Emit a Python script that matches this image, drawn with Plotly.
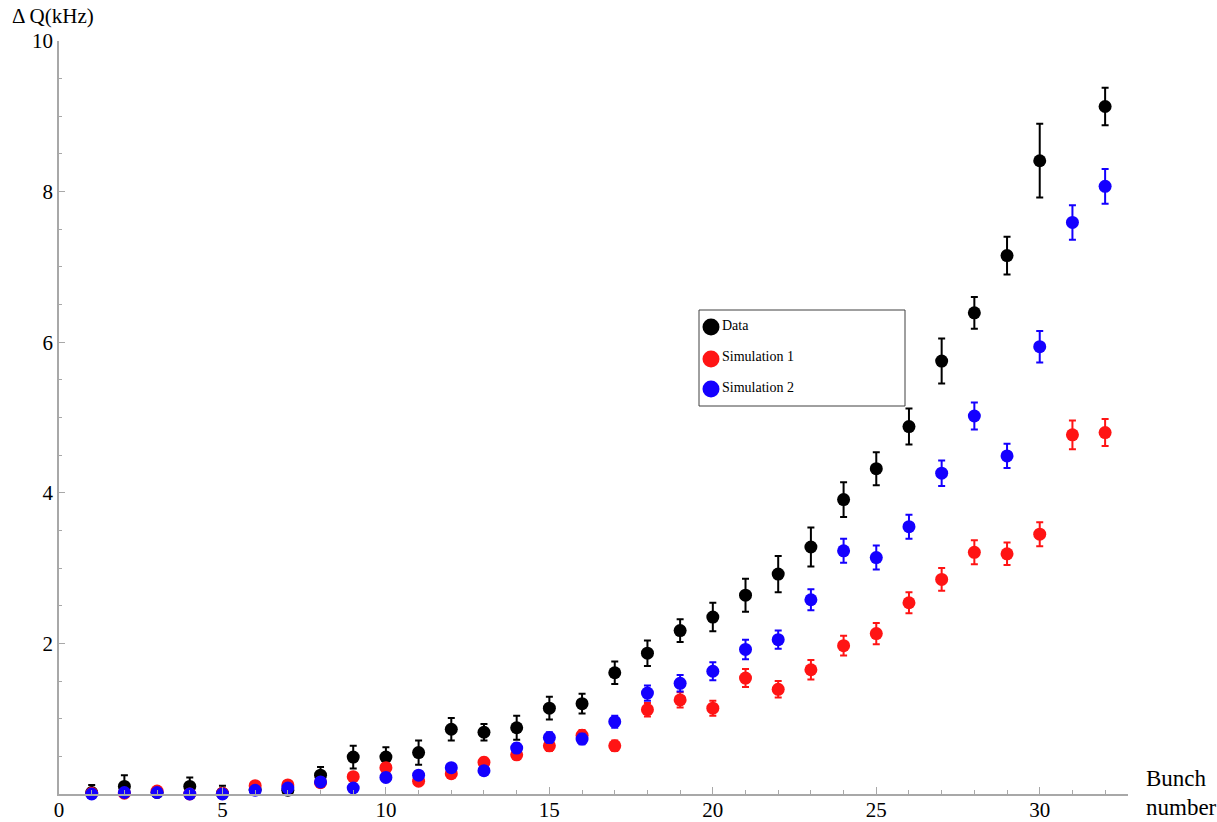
import plotly.graph_objects as go

# Bunch numbers
bunches = list(range(1, 33))
data_bunches = [b for b in bunches if b != 31]

# Measured tune shift (kHz) and its uncertainty
data_dq = [0.02, 0.10, 0.02, 0.10, 0.01, 0.06, 0.05, 0.25, 0.49, 0.49, 0.55, 0.86, 0.82,
           0.88, 1.14, 1.20, 1.61, 1.87, 2.17, 2.35, 2.64, 2.92, 3.28, 3.91, 4.32, 4.88,
           5.75, 6.39, 7.15, 8.41, 9.13]
data_err = [0.10, 0.15, 0.05, 0.12, 0.10, 0.05, 0.06, 0.11, 0.15, 0.13, 0.16, 0.15, 0.11,
            0.16, 0.15, 0.13, 0.15, 0.17, 0.15, 0.19, 0.22, 0.24, 0.26, 0.23, 0.22, 0.24,
            0.30, 0.21, 0.25, 0.49, 0.25]

# Simulation 1
sim1_dq = [0.01, 0.01, 0.04, 0.00, 0.01, 0.11, 0.12, 0.15, 0.23, 0.35, 0.17, 0.27, 0.42,
           0.52, 0.64, 0.78, 0.64, 1.12, 1.25, 1.14, 1.54, 1.39, 1.65, 1.97, 2.13, 2.54,
           2.85, 3.21, 3.19, 3.45, 4.77, 4.80]
sim1_err = [0.02, 0.02, 0.02, 0.02, 0.02, 0.03, 0.03, 0.03, 0.04, 0.05, 0.04, 0.05, 0.06,
            0.06, 0.07, 0.07, 0.07, 0.09, 0.10, 0.10, 0.12, 0.11, 0.13, 0.13, 0.14, 0.14,
            0.15, 0.16, 0.15, 0.16, 0.19, 0.18]

# Simulation 2
sim2_dq = [0.00, 0.02, 0.02, 0.00, 0.00, 0.05, 0.08, 0.16, 0.08, 0.22, 0.25, 0.35, 0.31,
           0.61, 0.75, 0.73, 0.96, 1.34, 1.47, 1.63, 1.92, 2.05, 2.58, 3.23, 3.14, 3.55,
           4.26, 5.02, 4.49, 5.94, 7.59, 8.07]
sim2_err = [0.02, 0.02, 0.02, 0.02, 0.02, 0.03, 0.03, 0.03, 0.03, 0.04, 0.04, 0.05, 0.05,
            0.06, 0.07, 0.07, 0.08, 0.10, 0.11, 0.12, 0.13, 0.12, 0.14, 0.16, 0.16, 0.16,
            0.17, 0.18, 0.16, 0.21, 0.23, 0.23]

y_tick_vals = [2, 4, 6, 8, 10]
x_tick_vals = [0, 5, 10, 15, 20, 25, 30]

series = [
    ("Data", data_bunches, data_dq, data_err, "#000000"),
    ("Simulation 1", bunches, sim1_dq, sim1_err, "#ff1414"),
    ("Simulation 2", bunches, sim2_dq, sim2_err, "#1400ff"),
]

FONT = "Liberation Serif, Times New Roman, serif"
AXIS_GRAY = "#a8a8a8"

fig = go.Figure()
for name, xs, ys, errs, color in series:
    fig.add_trace(go.Scatter(
        x=xs, y=ys, name=name, mode="markers",
        marker=dict(color=color, size=13),
        error_y=dict(type="data", array=errs, visible=True,
                     color=color, thickness=2, width=3.5),
        cliponaxis=False, showlegend=False,
    ))

# Plot-area geometry (pixels) used for placing the legend box and labels
L, T, W, H = 59, 41, 1069, 753


def px_x(p):
    return (p - L) / W


def px_y(p):
    return (T + H - p) / H


shapes = [dict(type="rect", xref="paper", yref="paper",
               x0=px_x(699), x1=px_x(905), y0=px_y(406), y1=px_y(310),
               line=dict(color="#404040", width=1), fillcolor="white", layer="above")]
annotations = []
rows = [327, 359, 389]
for (name, _, _, _, color), ry in zip(series, rows):
    shapes.append(dict(type="circle", xref="paper", yref="paper",
                       xsizemode="pixel", ysizemode="pixel",
                       xanchor=px_x(711), yanchor=px_y(ry),
                       x0=-8.5, x1=8.5, y0=-8.5, y1=8.5,
                       fillcolor=color, line=dict(width=0), layer="above"))
    annotations.append(dict(text=name, xref="paper", yref="paper",
                            x=px_x(720), y=px_y(ry - 2), xanchor="left", yanchor="middle",
                            showarrow=False, font=dict(family=FONT, size=14, color="black")))

annotations += [
    dict(text="Δ Q(kHz)", xref="paper", yref="paper", x=px_x(10), y=px_y(16),
         xanchor="left", yanchor="middle", showarrow=False,
         font=dict(family=FONT, size=21, color="black")),
    dict(text="Bunch", xref="paper", yref="paper", x=px_x(1144), y=px_y(778),
         xanchor="left", yanchor="middle", showarrow=False,
         font=dict(family=FONT, size=23, color="black")),
    dict(text="number", xref="paper", yref="paper", x=px_x(1144), y=px_y(807),
         xanchor="left", yanchor="middle", showarrow=False,
         font=dict(family=FONT, size=23, color="black")),
]

fig.update_layout(
    width=1217, height=822,
    margin=dict(l=L, r=1217 - L - W, t=T, b=822 - T - H, autoexpand=False),
    paper_bgcolor="white", plot_bgcolor="white",
    font=dict(family=FONT, size=21, color="black"),
    shapes=shapes, annotations=annotations,
    xaxis=dict(range=[0, 32.7], showgrid=False, zeroline=False,
               showline=True, linecolor=AXIS_GRAY, linewidth=1.5,
               tickmode="array", tickvals=x_tick_vals,
               ticks="inside", ticklen=7, tickcolor=AXIS_GRAY, tickwidth=1,
               ticklabelstandoff=-4,
               minor=dict(ticks="inside", dtick=1, tick0=0, ticklen=4,
                          tickcolor=AXIS_GRAY, tickwidth=1),
               tickfont=dict(family=FONT, size=21, color="black")),
    yaxis=dict(range=[0, 10], showgrid=False, zeroline=False,
               showline=True, linecolor=AXIS_GRAY, linewidth=1.5,
               tickmode="array", tickvals=y_tick_vals,
               ticks="inside", ticklen=6, tickcolor=AXIS_GRAY, tickwidth=1,
               minor=dict(ticks="inside", dtick=0.5, tick0=0, ticklen=3,
                          tickcolor=AXIS_GRAY, tickwidth=1),
               tickfont=dict(family=FONT, size=21, color="black")),
)

fig.write_html("out.html")
